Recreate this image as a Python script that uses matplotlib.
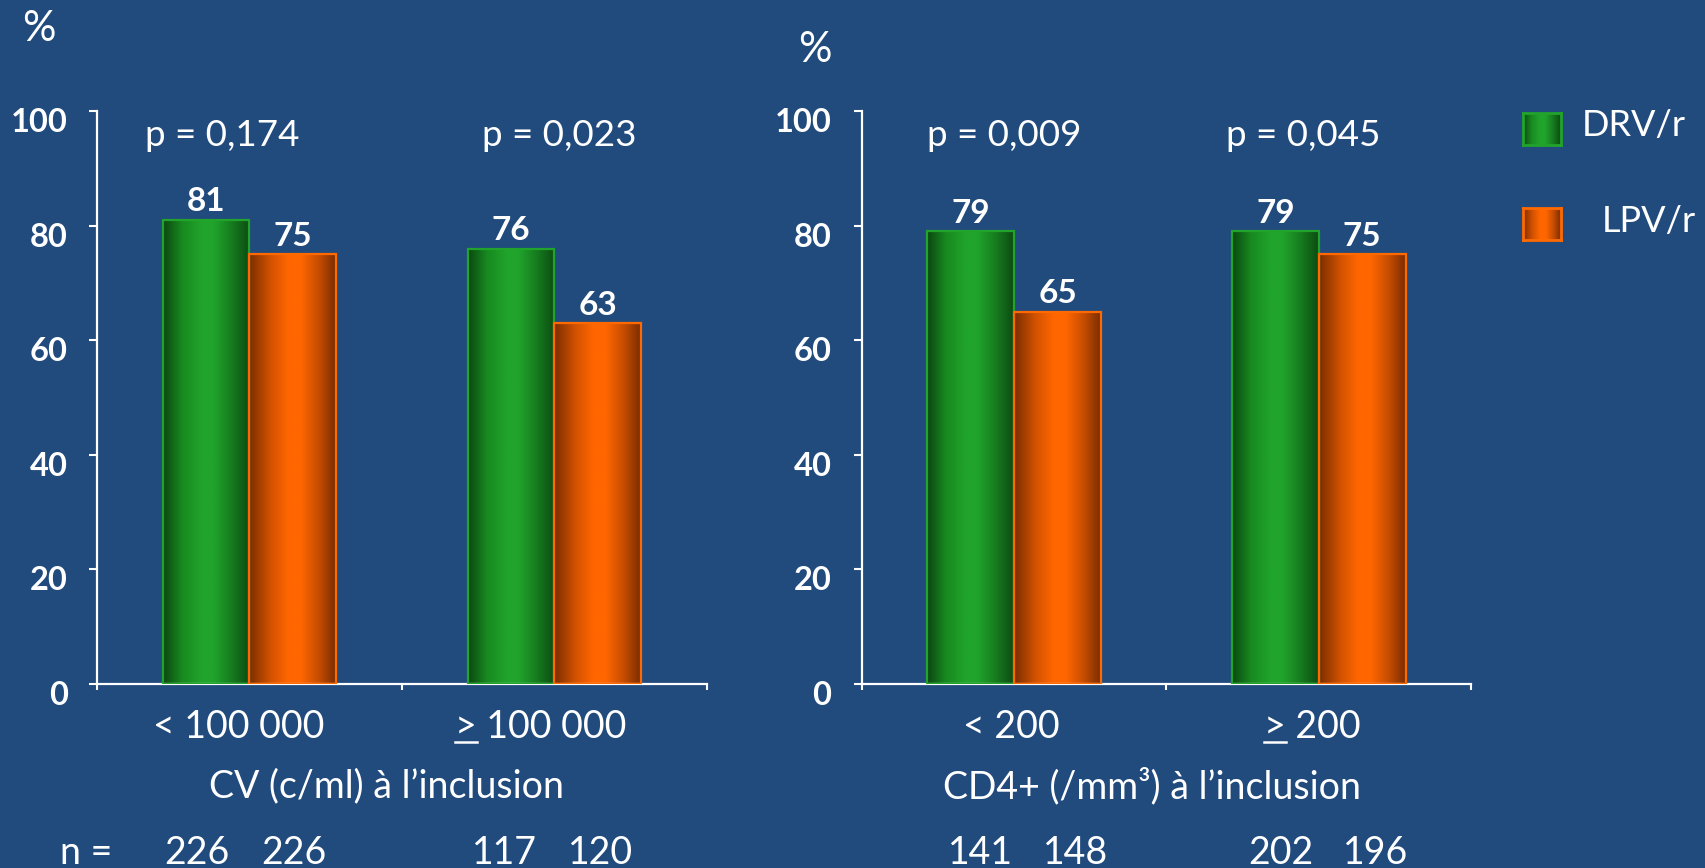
import numpy as np
import matplotlib
matplotlib.use("Agg")
import matplotlib.pyplot as plt
from matplotlib.colors import LinearSegmentedColormap
from matplotlib.lines import Line2D
import matplotlib.transforms as mtransforms

# ---- data ----
series = ["DRV/r", "LPV/r"]
yticks = [0, 20, 40, 60, 80, 100]

cv_categories = ["< 100 000", "> 100 000"]
cv_underline_first = [False, True]
cv_drv = [81, 76]
cv_lpv = [75, 63]
cv_pvalues = ["p = 0,174", "p = 0,023"]
cv_n_drv = [226, 117]
cv_n_lpv = [226, 120]
cv_title = "CV (c/ml) à l\u2019inclusion"

cd4_categories = ["< 200", "> 200"]
cd4_underline_first = [False, True]
cd4_drv = [79, 79]
cd4_lpv = [65, 75]
cd4_pvalues = ["p = 0,009", "p = 0,045"]
cd4_n_drv = [141, 202]
cd4_n_lpv = [148, 196]
cd4_title = "CD4+ (/mm\u00b3) à l\u2019inclusion"

# ---- style ----
BG = "#214a7d"
FONT = "Lato"
GREEN_EDGE = "#22a32c"
ORANGE_EDGE = "#ff6a00"
green_cmap = LinearSegmentedColormap.from_list(
    "drv", [(0.0, "#0c4711"), (0.22, "#178a20"), (0.45, "#21a42c"),
            (0.58, "#21a42c"), (0.8, "#167a1e"), (1.0, "#0d4a12")])
orange_cmap = LinearSegmentedColormap.from_list(
    "lpv", [(0.0, "#7a2d00"), (0.25, "#d35200"), (0.45, "#ff6600"),
            (0.6, "#ff6600"), (0.8, "#c74d00"), (1.0, "#7a2d00")])
gradient = np.linspace(0, 1, 256).reshape(1, -1)

W, H = 1706, 868
fig = plt.figure(figsize=(W / 100, H / 100), dpi=100, facecolor=BG)


def px_axes(x0, x1, ytop, ybot):
    return fig.add_axes([x0 / W, 1 - ybot / H, (x1 - x0) / W, (ybot - ytop) / H])


underlined = []


def draw_panel(ax, cats, under, drv, lpv, pvals, p_x, cat_x, title, title_x,
               n_drv, n_lpv, n_x, pad):
    ax.set_facecolor("none")
    x = np.arange(len(cats)) + 0.5
    w = 0.285
    gbars = ax.bar(x - w / 2, drv, w, facecolor="none", edgecolor=GREEN_EDGE,
                   linewidth=1.6, zorder=3)
    obars = ax.bar(x + w / 2, lpv, w, facecolor="none", edgecolor=ORANGE_EDGE,
                   linewidth=1.6, zorder=3)
    for bars, vals, cmap in ((gbars, drv, green_cmap), (obars, lpv, orange_cmap)):
        for rect, v in zip(bars, vals):
            x0 = rect.get_x()
            ax.imshow(gradient, cmap=cmap, aspect="auto", interpolation="bilinear",
                      extent=[x0, x0 + rect.get_width(), 0, rect.get_height()],
                      zorder=2)
            ax.annotate(str(v), (x0 + rect.get_width() / 2, v), xytext=(0, 2.5),
                        textcoords="offset points", ha="center", va="bottom",
                        color="white", fontsize=24, fontweight="bold",
                        family=FONT)
    ax.set_xlim(0, len(cats))
    ax.set_ylim(0, 100)

    for s in ("top", "right"):
        ax.spines[s].set_visible(False)
    for s in ("left", "bottom"):
        ax.spines[s].set_color("white")
        ax.spines[s].set_linewidth(1.6)
    ax.set_yticks(yticks)
    ax.set_xticks(np.arange(len(cats) + 1))
    ax.set_xticklabels([])
    ax.tick_params(axis="y", direction="out", length=6, width=1.5, colors="white",
                   pad=pad)
    ax.tick_params(axis="x", direction="out", length=4, width=1.5, colors="white")
    for lab in ax.get_yticklabels():
        lab.set_fontsize(23.5)
        lab.set_fontweight("bold")
        lab.set_family(FONT)
        lab.set_transform(lab.get_transform() +
                          mtransforms.ScaledTranslation(0, -0.09, fig.dpi_scale_trans))

    blend = mtransforms.blended_transform_factory(ax.transData, fig.transFigure)
    for px, p in zip(p_x, pvals):
        ax.text(px, 1 - 136 / H, p, transform=blend, ha="center", va="center",
                color="white", fontsize=26.5, family=FONT)
    for cx, c, u in zip(cat_x, cats, under):
        t = ax.text(cx, 1 - 727 / H, c, transform=blend, ha="center", va="center",
                    color="white", fontsize=27, family=FONT)
        if u:
            underlined.append(t)
    ax.text(title_x, 1 - 786 / H, title, transform=blend, ha="center",
            va="center", color="white", fontsize=27, family=FONT)
    for nx, n in zip(n_x, list(zip(n_drv, n_lpv))):
        ax.text(nx[0], 1 - 864 / H, str(n[0]), transform=blend, ha="center",
                va="baseline", color="white", fontsize=27, family=FONT)
        ax.text(nx[1], 1 - 864 / H, str(n[1]), transform=blend, ha="center",
                va="baseline", color="white", fontsize=27, family=FONT)


ax1 = px_axes(97, 707, 111, 684)
draw_panel(ax1, cv_categories, cv_underline_first, cv_drv, cv_lpv, cv_pvalues,
           [0.41, 1.515], [0.466, 1.456], cv_title, 0.948,
           cv_n_drv, cv_n_lpv, [(0.328, 0.646), (1.336, 1.651)], pad=15)

ax2 = px_axes(862, 1471, 111, 684)
draw_panel(ax2, cd4_categories, cd4_underline_first, cd4_drv, cd4_lpv, cd4_pvalues,
           [0.466, 1.45], [0.49, 1.48], cd4_title, 0.952,
           cd4_n_drv, cd4_n_lpv, [(0.388, 0.70), (1.376, 1.688)], pad=16)

# axis unit labels and sample-size prefix
fig.text(39 / W, 1 - 29 / H, "%", ha="center", va="center", color="white",
         fontsize=30, family=FONT)
fig.text(815 / W, 1 - 50 / H, "%", ha="center", va="center", color="white",
         fontsize=30, family=FONT)
fig.text(60 / W, 1 - 864 / H, "n =", ha="left", va="baseline", color="white",
         fontsize=27, family=FONT)

# legend with gradient swatches
for (x0, y0, x1, y1), cmap, edge, label, tx, ty in (
        ((1523, 113, 1561, 145), green_cmap, GREEN_EDGE, series[0], 1582, 125),
        ((1523, 208, 1561, 240), orange_cmap, ORANGE_EDGE, series[1], 1602, 222)):
    lax = px_axes(x0, x1, y0, y1)
    lax.imshow(gradient, cmap=cmap, aspect="auto", interpolation="bilinear")
    lax.set_xticks([])
    lax.set_yticks([])
    for s in lax.spines.values():
        s.set_color(edge)
        s.set_linewidth(2)
    fig.text(tx / W, 1 - ty / H, label, ha="left", va="center", color="white",
             fontsize=26, family=FONT)

# underline the leading ">" so it reads as "greater than or equal"
fig.canvas.draw()
renderer = fig.canvas.get_renderer()
for t in underlined:
    bb = t.get_window_extent(renderer)
    probe = fig.text(0, 0, ">", fontsize=t.get_fontsize(), family=FONT)
    gw = probe.get_window_extent(renderer).width
    probe.remove()
    y = bb.y0 + 3
    fig.add_artist(Line2D([bb.x0 / W, (bb.x0 + gw) / W], [y / H, y / H],
                          transform=fig.transFigure, color="white", linewidth=1.8))

fig.savefig("out.png", dpi=100, facecolor=BG)
